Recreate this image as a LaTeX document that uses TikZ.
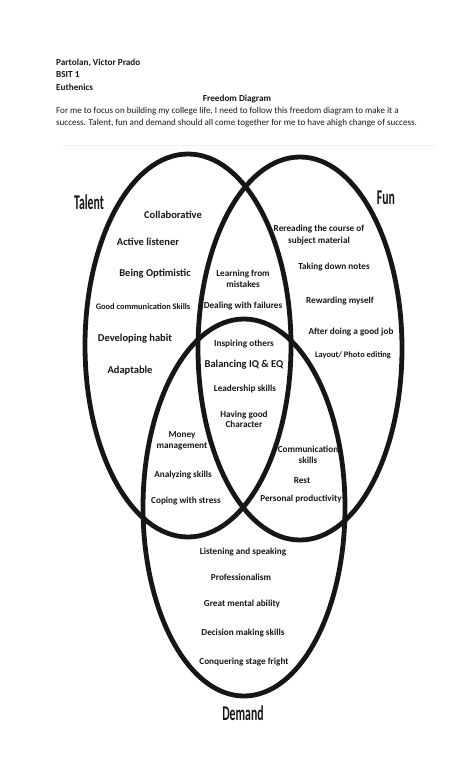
\documentclass[tikz,border=0pt]{standalone}
\usepackage{fontspec}
\setsansfont{Carlito}
\usepackage{graphicx}
\usetikzlibrary{shapes.geometric}
\definecolor{ink}{HTML}{161616}
\definecolor{faint}{HTML}{EFEFEF}

\begin{document}
\begin{tikzpicture}[x=1pt,y=-1pt,font=\sffamily,text=ink,
  ring/.style={draw=ink,line width=4.8pt,ellipse,inner sep=0pt},
  hdr/.style={font=\sffamily\bfseries\fontsize{9.2}{12.5}\selectfont,align=left,anchor=west,inner sep=0pt},
  big/.style={font=\sffamily\bfseries\fontsize{10.5}{12}\selectfont,inner sep=0pt},
  item/.style={font=\sffamily\bfseries\fontsize{9.2}{10.5}\selectfont,align=center,inner sep=0pt},
  tiny/.style={font=\sffamily\bfseries\fontsize{8.4}{10}\selectfont,inner sep=0pt},
  setname/.style={font=\sffamily\bfseries\fontsize{21}{24}\selectfont,inner sep=0pt}]
  \useasboundingbox (0,0) rectangle (474,780);

  % heading
  \node[hdr] (who) at (56,74.5) {Partolan, Victor Prado\\BSIT 1\\Euthenics};
  \node[hdr,anchor=center] (title) at (237,99) {Freedom Diagram};
  \node[hdr,font=\sffamily\fontsize{9.05}{12}\selectfont] (intro) at (56,117)
    {For me to focus on building my college life, I need to follow this freedom diagram to make it a\\
     success. Talent, fun and demand should all come together for me to have ahigh change of success.};
  \draw[faint,line width=1pt] (63,145)--(437,145);

  % the three sets
  \node[ring,minimum width=206pt,minimum height=383pt] (talent) at (188,345.5) {};
  \node[ring,minimum width=204pt,minimum height=383pt] (fun) at (300,348.5) {};
  \node[ring,minimum width=202pt,minimum height=377pt] (demand) at (244,507.5) {};
  \node[setname] (talentname) at (89,202) {\scalebox{0.56}[1]{Talent}};
  \node[setname] (funname) at (386,198) {\scalebox{0.56}[1]{Fun}};
  \node[setname] (demandname) at (243,713) {\scalebox{0.56}[1]{Demand}};

  % talent only
  \node[big] (collab) at (173,215) {Collaborative};
  \node[big] (listener) at (148,242) {Active listener};
  \node[big] (optimistic) at (155,274) {Being Optimistic};
  \node[tiny] (commskills) at (143,307) {Good communication Skills};
  \node[big] (habit) at (135,339) {Developing habit};
  \node[big] (adaptable) at (130,371) {Adaptable};

  % talent and fun
  \node[item] (mistakes) at (243,279) {Learning from\\mistakes};
  \node[item] (failures) at (243,306) {Dealing with failures};

  % fun only
  \node[item,font=\sffamily\bfseries\fontsize{9.2}{12}\selectfont] (rereading) at (319,235) {Rereading the course of\\subject material};
  \node[item] (notes) at (334,267) {Taking down notes};
  \node[item] (reward) at (340,301) {Rewarding myself};
  \node[item] (goodjob) at (351,332) {After doing a good job};
  \node[tiny] (layout) at (353,355) {Layout/ Photo editing};

  % all three
  \node[item] (inspiring) at (244,344) {Inspiring others};
  \node[big] (balancing) at (244,365) {Balancing IQ \& EQ};
  \node[item] (leadership) at (245,389) {Leadership skills};
  \node[item] (character) at (244,419.5) {Having good\\Character};

  % talent and demand
  \node[item] (money) at (182,441) {Money\\management};
  \node[item] (analyzing) at (183,475) {Analyzing skills};
  \node[item] (coping) at (186,501) {Coping with stress};

  % fun and demand
  \node[item] (communication) at (308,455) {Communication\\skills};
  \node[item] (rest) at (302,481) {Rest};
  \node[item] (productivity) at (301,499) {Personal productivity};

  % demand only
  \node[item] (speaking) at (243,552) {Listening and speaking};
  \node[item] (professional) at (241,577) {Professionalism};
  \node[item] (mental) at (242,604) {Great mental ability};
  \node[item] (decision) at (243,633) {Decision making skills};
  \node[item] (stagefright) at (244,662) {Conquering stage fright};
\end{tikzpicture}
\end{document}
